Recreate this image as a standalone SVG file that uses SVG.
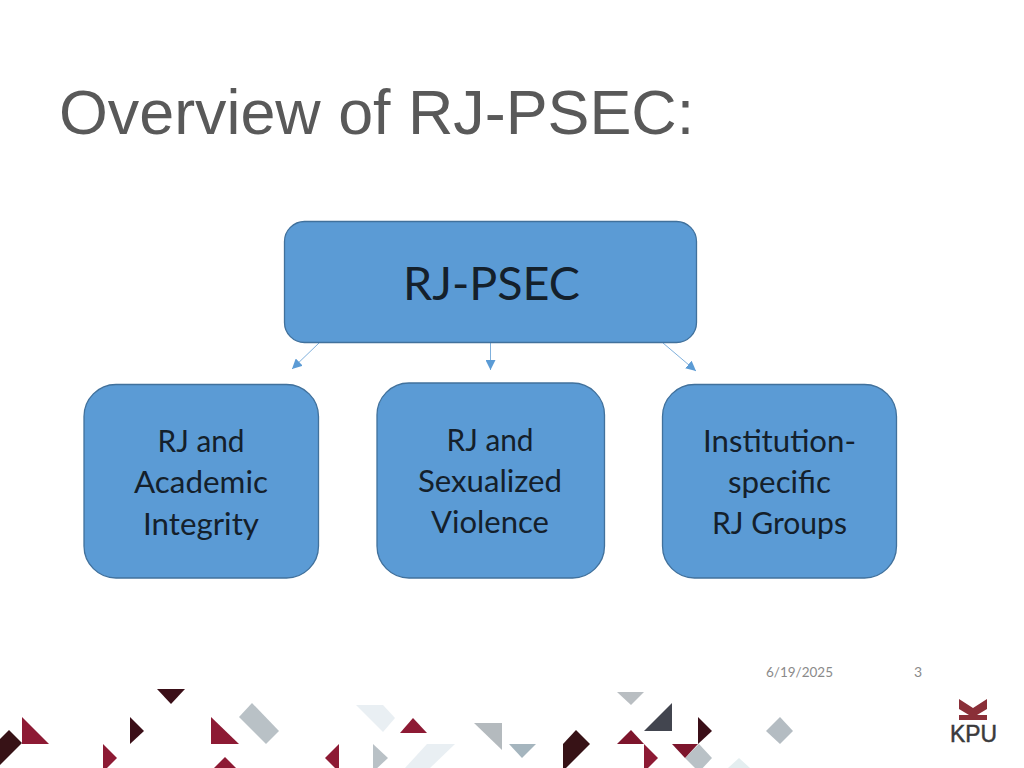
<svg xmlns="http://www.w3.org/2000/svg" width="1024" height="768" viewBox="0 0 1024 768">
<defs>
<marker id="ah" viewBox="0 0 10 10" refX="10" refY="5" markerWidth="10" markerHeight="10" markerUnits="userSpaceOnUse" orient="auto"><path d="M0 0L10 5L0 10Z" fill="#5b9bd5"/></marker>
</defs>
<style>
.box{fill:#5b9bd5;stroke:#41719c;stroke-width:1.3}
.lbl{font-family:Lato,"Noto Sans",sans-serif;font-size:30px;fill:#14202b;text-anchor:middle}
.conn{stroke:#7fb0dc;stroke-width:1;fill:none;marker-end:url(#ah)}
.foot{font-family:Lato,"Noto Sans",sans-serif;font-size:14px;fill:#8a8a8a}
</style>
<rect width="1024" height="768" fill="#fff"/>
<g id="decor">
<polygon points="157,689 185,689 171,704" fill="#3b0f18"/>
<polygon points="9,730 22,743 0,765 0,739" fill="#371216"/>
<polygon points="22,717 49,744 22,744" fill="#8d1a34"/>
<polygon points="130,717 144,731 130,744" fill="#3b0f18"/>
<polygon points="103,744 117,758 103,772" fill="#8d1a34"/>
<polygon points="211,717 239,744 211,744" fill="#8d1a34"/>
<polygon points="252,703 279,731 266,744 239,717" fill="#b9c1c6"/>
<polygon points="225,757 236,768 214,768" fill="#8d1a34"/>
<polygon points="339,744 325,758 339,772" fill="#8d1a34"/>
<polygon points="356,705 383,705 395,718 383,732" fill="#e9eff3"/>
<polygon points="413,718 427,733 400,733" fill="#8d1a34"/>
<polygon points="373,744 388,758 373,772" fill="#b9c1c6"/>
<polygon points="427,744 455,744 430,768 405,768" fill="#e9eff3"/>
<polygon points="474,723 502,723 502,750" fill="#b4babe"/>
<polygon points="509,744 536,744 522,758" fill="#a5b5be"/>
<polygon points="576,730 590,744 563,771 563,744" fill="#371216"/>
<polygon points="617,692 644,692 631,705" fill="#b9bec2"/>
<polygon points="672,703 672,731 644,731" fill="#42454f"/>
<polygon points="631,730 644,744 617,744" fill="#7d152c"/>
<polygon points="644,744 658,758 644,772" fill="#8d1a34"/>
<polygon points="698,717 712,731 698,744" fill="#3b0f18"/>
<polygon points="699,744 712,758 699,772 685,758" fill="#b9c1c6"/>
<polygon points="672,744 698,744 685,758" fill="#7d152c"/>
<polygon points="780,717 793,731 780,744 766,731" fill="#b4bcc2"/>
<polygon points="739,758 750,768 728,768" fill="#e4eef0"/>
</g>
<g id="logo">
<polygon points="959,699 973,708 987,699 987,709 977,715 987,715 987,720 959,720 959,715 969,715 959,709" fill="#8a2f38"/>
<text x="973.500" y="742" font-family="'Liberation Sans',Arial,sans-serif" font-size="24" stroke="#3a3a3c" stroke-width="0.5" fill="#3a3a3c" text-anchor="middle" textLength="47" lengthAdjust="spacingAndGlyphs">KPU</text>
</g>
<text id="title" x="59" y="134" font-family="'Liberation Sans',Arial,sans-serif" font-size="62.800" fill="#595959">Overview of RJ-PSEC:</text>
<g id="connectors">
<line class="conn" x1="319" y1="343" x2="292" y2="369"/>
<line class="conn" x1="490.500" y1="343" x2="490.500" y2="370"/>
<line class="conn" x1="663" y1="343" x2="696" y2="371"/>
</g>
<g id="n-root"><rect class="box" x="284.500" y="221.500" width="412" height="121" rx="20"/>
<text x="491.500" y="300" font-family="Lato,'Noto Sans',sans-serif" font-size="46" fill="#14202b" text-anchor="middle" textLength="177" lengthAdjust="spacingAndGlyphs">RJ-PSEC</text></g>
<g id="n-academic"><rect class="box" x="84" y="384.500" width="234.500" height="193.500" rx="32"/>
<text class="lbl" x="201" y="452" textLength="87" lengthAdjust="spacingAndGlyphs">RJ and</text><text class="lbl" x="201" y="493" textLength="134" lengthAdjust="spacingAndGlyphs">Academic</text><text class="lbl" x="201" y="535" textLength="116" lengthAdjust="spacingAndGlyphs">Integrity</text></g>
<g id="n-violence"><rect class="box" x="377" y="383" width="227.500" height="195" rx="32"/>
<text class="lbl" x="490" y="451" textLength="87" lengthAdjust="spacingAndGlyphs">RJ and</text><text class="lbl" x="490" y="492" textLength="144" lengthAdjust="spacingAndGlyphs">Sexualized</text><text class="lbl" x="490" y="533" textLength="118" lengthAdjust="spacingAndGlyphs">Violence</text></g>
<g id="n-institution"><rect class="box" x="662.500" y="384.500" width="234" height="193.500" rx="32"/>
<text class="lbl" x="779.500" y="452" textLength="153" lengthAdjust="spacingAndGlyphs">Institution-</text><text class="lbl" x="779.500" y="493" textLength="103" lengthAdjust="spacingAndGlyphs">specific</text><text class="lbl" x="779.500" y="534" textLength="135" lengthAdjust="spacingAndGlyphs">RJ Groups</text></g>
<text id="date" class="foot" x="766" y="677" textLength="67" lengthAdjust="spacingAndGlyphs">6/19/2025</text>
<text id="page" class="foot" x="914" y="677">3</text>
</svg>
